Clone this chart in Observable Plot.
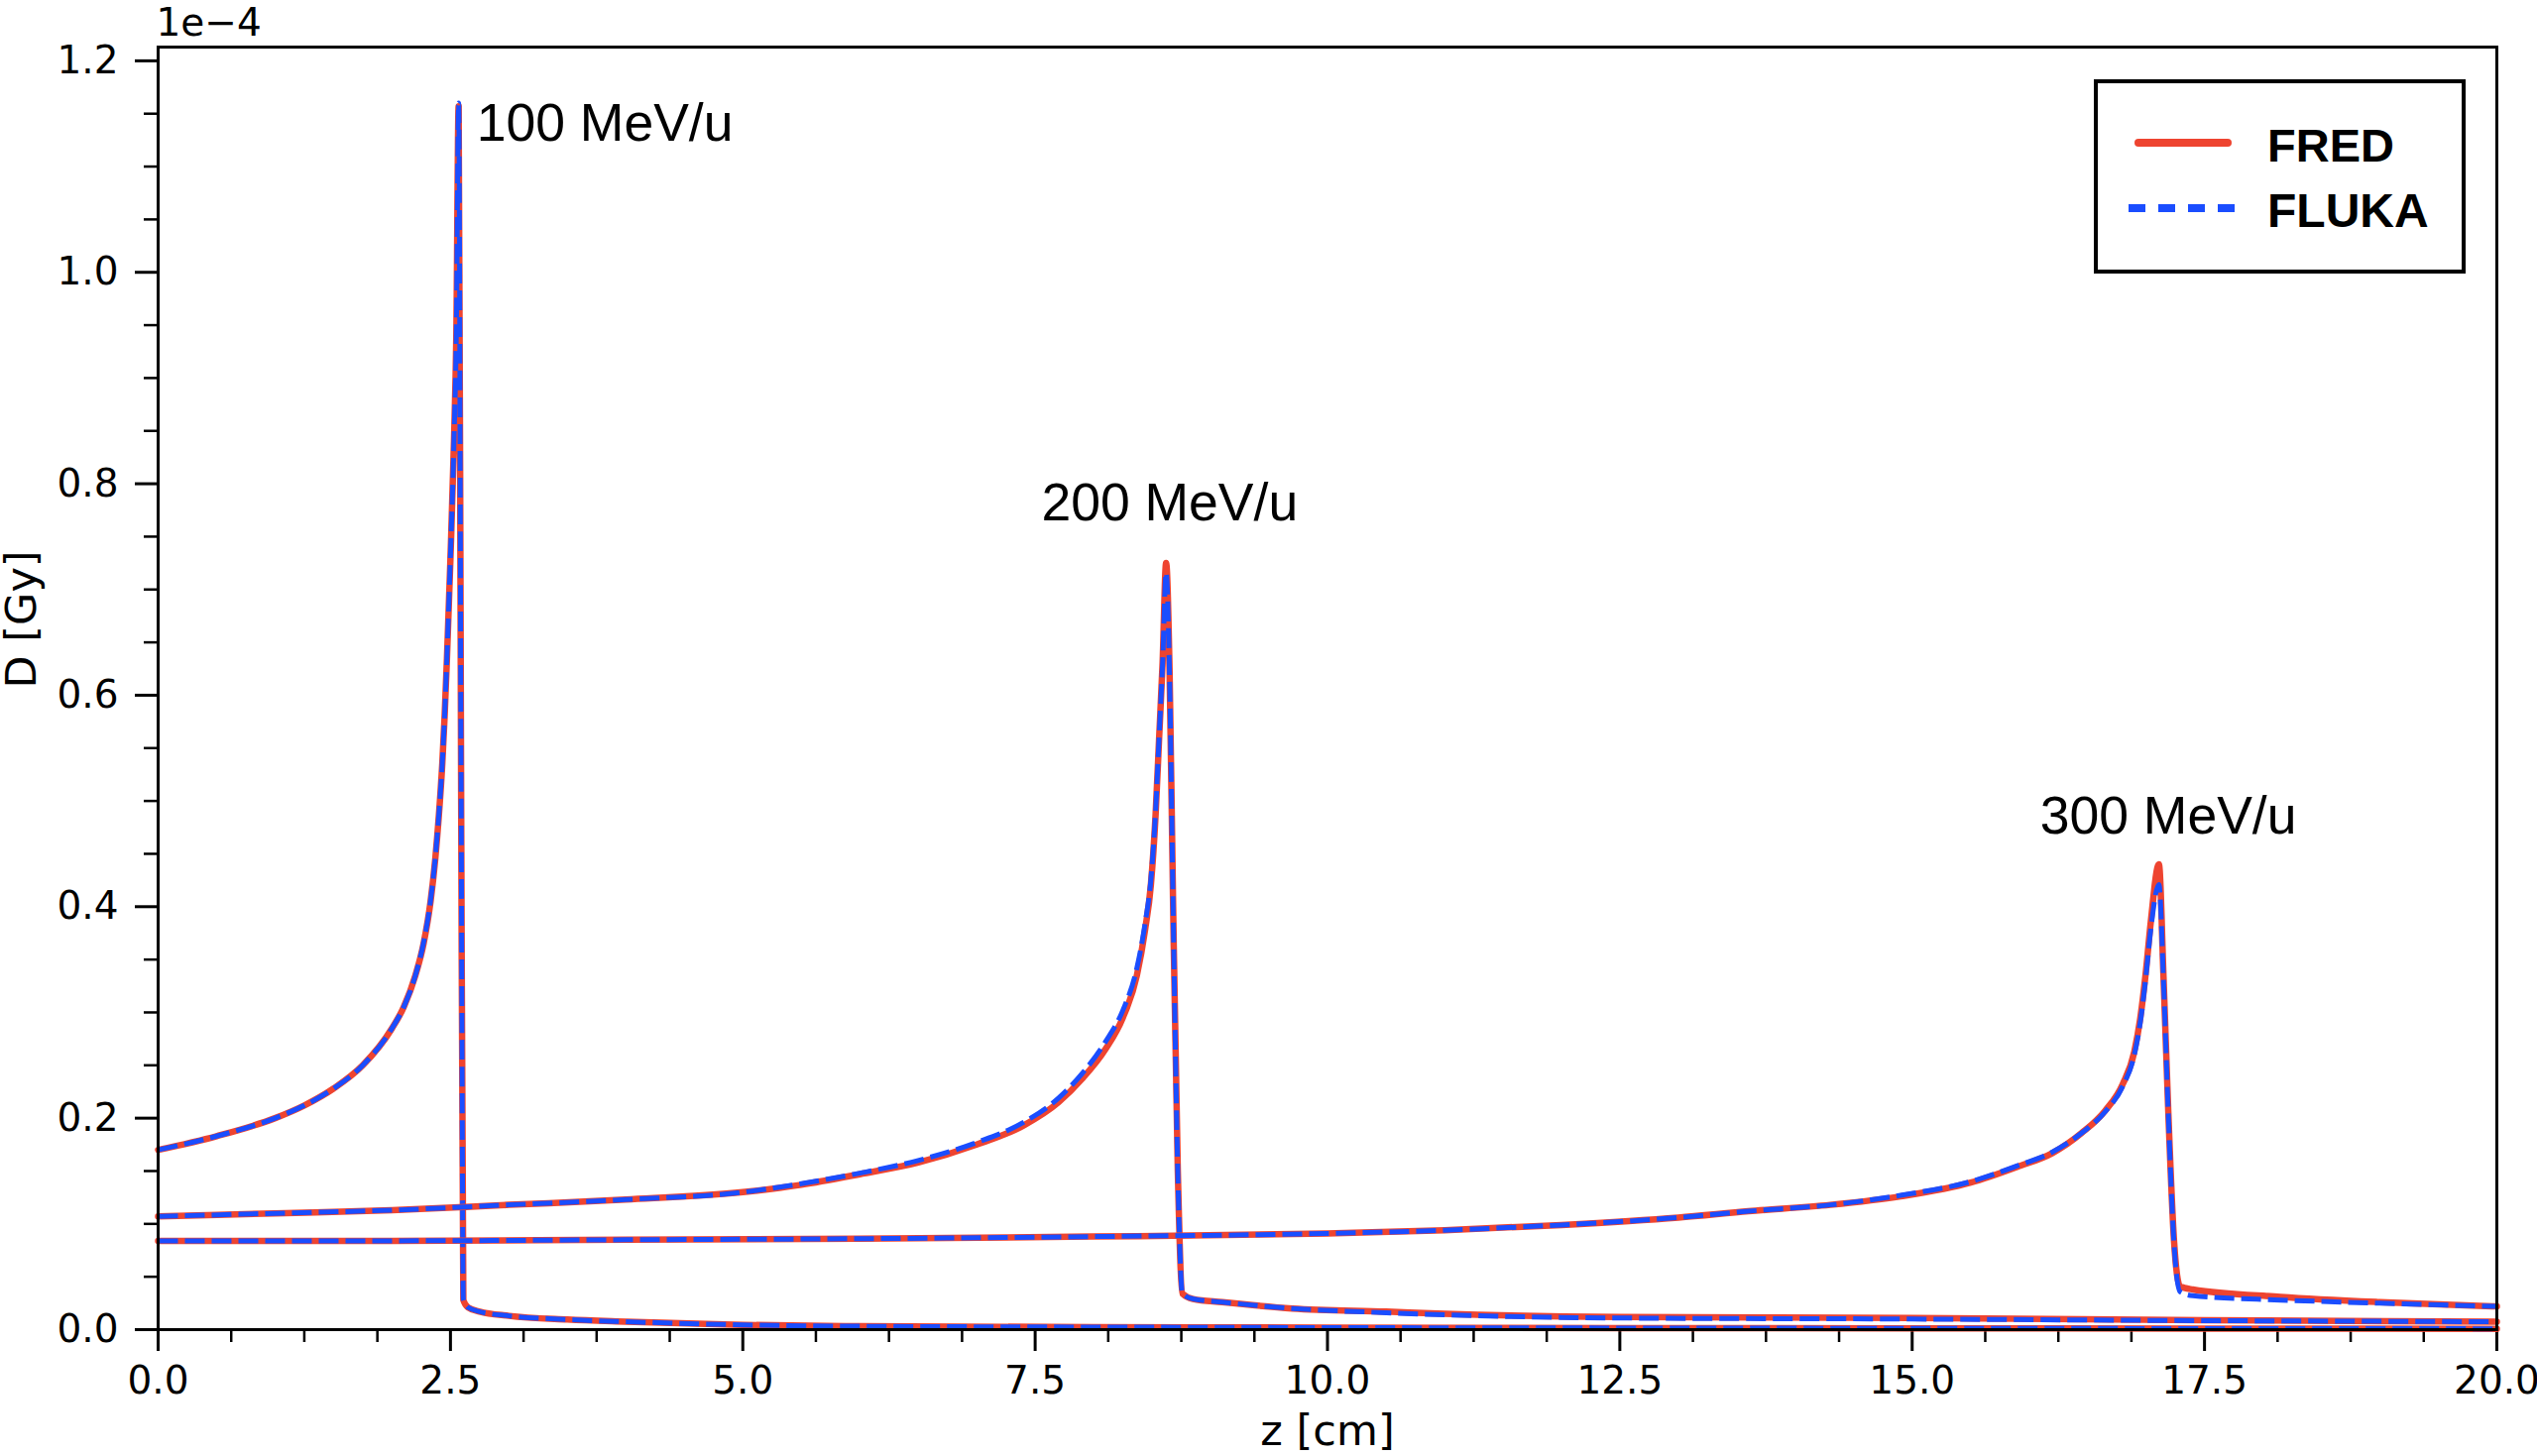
<!DOCTYPE html>
<html>
<head>
<meta charset="utf-8">
<script src="https://cdn.jsdelivr.net/npm/d3@7"></script>
<script src="https://cdn.jsdelivr.net/npm/@observablehq/plot@0.6"></script>
<style>
  html, body { margin: 0; padding: 0; background: #fff; }
  #wrap { position: relative; width: 2559px; height: 1469px; }
  #legend { position: absolute; left: 2112px; top: 80px; width: 367px; height: 188px;
            border: 4px solid #000; background: #fff; }
  #legend svg { display: block; }
</style>
</head>
<body>
<div id="wrap">
  <div id="chart"></div>
  <div id="legend"></div>
</div>
<script>
// ---------------- data (D in units of 1e-4 Gy, z in cm) ----------------
const codes = ["FRED", "FLUKA"];
const energies = ["100 MeV/u", "200 MeV/u", "300 MeV/u"];

const z100 = [0, 0.5, 1.0, 1.25, 1.5, 1.75, 2.0, 2.1, 2.2, 2.27, 2.33, 2.37, 2.40, 2.43, 2.45, 2.47, 2.50, 2.53, 2.55, 2.57, 2.59, 2.61, 2.65, 2.75, 3.0, 3.5, 4.0, 5.0, 6.0, 8.0, 10.0, 12.5, 15.0, 17.5, 20.0];
const fred100 = [0.170, 0.183, 0.200, 0.212, 0.228, 0.250, 0.285, 0.305, 0.335, 0.365, 0.405, 0.445, 0.485, 0.535, 0.580, 0.635, 0.730, 0.840, 0.940, 1.157, 0.550, 0.028, 0.021, 0.017, 0.013, 0.0095, 0.0075, 0.0045, 0.0032, 0.0024, 0.0019, 0.0015, 0.0012, 0.0010, 0.0008];
const fluka100 = [0.170, 0.183, 0.200, 0.212, 0.228, 0.250, 0.285, 0.305, 0.335, 0.366, 0.406, 0.446, 0.486, 0.536, 0.581, 0.637, 0.732, 0.842, 0.942, 1.160, 0.552, 0.029, 0.021, 0.017, 0.013, 0.0095, 0.0075, 0.0045, 0.0032, 0.0024, 0.0019, 0.0015, 0.0012, 0.0010, 0.0008];

const z200 = [0, 1.0, 2.0, 3.0, 4.0, 5.0, 5.5, 6.0, 6.5, 7.0, 7.4, 7.7, 7.9, 8.1, 8.25, 8.37, 8.44, 8.49, 8.53, 8.56, 8.59, 8.62, 8.65, 8.68, 8.72, 8.76, 8.85, 9.1, 9.7, 10.5, 11.0, 12.5, 15.0, 17.5, 20.0];
const fred200 = [0.107, 0.110, 0.113, 0.118, 0.123, 0.130, 0.137, 0.147, 0.158, 0.175, 0.193, 0.215, 0.237, 0.265, 0.295, 0.335, 0.378, 0.421, 0.487, 0.559, 0.631, 0.725, 0.620, 0.400, 0.150, 0.034, 0.029, 0.026, 0.020, 0.017, 0.015, 0.012, 0.011, 0.009, 0.0075];
const fluka200 = [0.107, 0.110, 0.113, 0.118, 0.123, 0.130, 0.138, 0.148, 0.160, 0.177, 0.196, 0.219, 0.242, 0.272, 0.302, 0.342, 0.384, 0.426, 0.490, 0.560, 0.630, 0.716, 0.615, 0.398, 0.148, 0.034, 0.029, 0.026, 0.020, 0.016, 0.014, 0.011, 0.010, 0.0085, 0.0075];

const z300 = [0, 2.0, 4.0, 6.0, 8.0, 10.0, 11.0, 12.0, 13.0, 13.6, 14.3, 14.9, 15.5, 15.9, 16.2, 16.45, 16.65, 16.8, 16.9, 16.95, 17.0, 17.04, 17.11, 17.15, 17.19, 17.24, 17.29, 17.4, 18.15, 19.0, 20.0];
const fred300 = [0.084, 0.084, 0.085, 0.086, 0.088, 0.091, 0.094, 0.099, 0.106, 0.112, 0.118, 0.126, 0.139, 0.154, 0.167, 0.186, 0.207, 0.232, 0.263, 0.294, 0.340, 0.385, 0.440, 0.332, 0.207, 0.083, 0.041, 0.038, 0.031, 0.026, 0.022];
const fluka300 = [0.084, 0.084, 0.085, 0.086, 0.088, 0.091, 0.094, 0.099, 0.106, 0.112, 0.118, 0.127, 0.140, 0.155, 0.168, 0.186, 0.206, 0.230, 0.260, 0.290, 0.335, 0.378, 0.421, 0.328, 0.205, 0.080, 0.036, 0.032, 0.028, 0.025, 0.022];

// peak annotations (label anchor in data coordinates)
const labelText = ["100 MeV/u", "200 MeV/u", "300 MeV/u"];
const labelZ = [3.82, 8.65, 17.19];
const labelD = [1.140, 0.781, 0.485];

// axis ticks
const xTicks = [0, 2.5, 5.0, 7.5, 10.0, 12.5, 15.0, 17.5, 20.0];
const yTicks = [0, 0.2, 0.4, 0.6, 0.8, 1.0, 1.2];
const offsetText = "1e\u22124";
const xLabel = "z [cm]";
const yLabel = "D [Gy]";

// ---------------- build tables ----------------
const series = [
  {energy: energies[0], z: z100, FRED: fred100, FLUKA: fluka100},
  {energy: energies[1], z: z200, FRED: fred200, FLUKA: fluka200},
  {energy: energies[2], z: z300, FRED: fred300, FLUKA: fluka300}
];
const rows = {FRED: [], FLUKA: []};
for (const s of series) {
  for (const c of codes) {
    s.z.forEach((zv, i) => rows[c].push({code: c, energy: s.energy, z: zv, D: s[c][i]}));
  }
}
const labels = labelText.map((t, i) => ({text: t, z: labelZ[i], D: labelD[i]}));
const xMinor = d3.range(0, 33).map(i => i * 0.625).filter(v => v <= 20 && !xTicks.includes(v));
const yMinor = d3.range(0, 25).filter(i => i % 4 !== 0).map(i => i * 0.05);

const RED = "#ee4430";
const BLUE = "#1a4dff";

const lineMarks = [];
for (const e of energies) {
  lineMarks.push(Plot.line(rows.FRED.filter(d => d.energy === e), {x: "z", y: "D", curve: "monotone-x", stroke: RED, strokeWidth: 6.5, strokeLinejoin: "round"}));
  lineMarks.push(Plot.line(rows.FLUKA.filter(d => d.energy === e), {x: "z", y: "D", curve: "monotone-x", stroke: BLUE, strokeWidth: 5, strokeDasharray: "20,7", strokeLinecap: "butt", strokeLinejoin: "round"}));
}

const chart = Plot.plot({
  width: 2559,
  height: 1469,
  marginLeft: 159,
  marginRight: 41,
  marginTop: 47,
  marginBottom: 128,
  style: {fontFamily: "DejaVu Sans", fontSize: "39px", background: "white", color: "black", overflow: "visible"},
  x: {domain: [0, 20], label: null},
  y: {domain: [0, 1.213], label: null},
  marks: [
    Plot.axisX(xMinor, {tickSize: 13, tickFormat: () => "", strokeWidth: 2.5, label: null}),
    Plot.axisX(xTicks, {tickSize: 22, tickPadding: 15, tickFormat: d3.format(".1f"), strokeWidth: 3, label: null}),
    Plot.axisY(yMinor, {tickSize: 14, tickFormat: () => "", strokeWidth: 2.5, label: null}),
    Plot.axisY(yTicks, {tickSize: 23, tickPadding: 17, tickFormat: d3.format(".1f"), strokeWidth: 3, label: null}),
    ...lineMarks,
    Plot.frame({stroke: "black", strokeWidth: 3}),
    Plot.text(labels, {x: "z", y: "D", text: "text", fontFamily: "Liberation Sans, Arial, sans-serif", fontSize: 53.5, fill: "black", textAnchor: "middle", lineAnchor: "middle"}),
    Plot.text([xLabel], {text: d => d, frameAnchor: "bottom", dy: 103, fontSize: 43, lineAnchor: "middle", fill: "black"}),
    Plot.text([yLabel], {text: d => d, frameAnchor: "left", dx: -137, rotate: -90, fontSize: 43, lineAnchor: "middle", fill: "black"}),
    Plot.text([offsetText], {text: d => d, frameAnchor: "top-left", dx: -2, dy: -12, textAnchor: "start", lineAnchor: "bottom", fill: "black"})
  ]
});
document.getElementById("chart").appendChild(chart);

// ---------------- legend ----------------
const lg = d3.select("#legend").append("svg").attr("width", 367).attr("height", 188);
lg.append("line").attr("x1", 41).attr("x2", 131).attr("y1", 60).attr("y2", 60)
  .attr("stroke", RED).attr("stroke-width", 8).attr("stroke-linecap", "round");
lg.append("line").attr("x1", 31).attr("x2", 138).attr("y1", 126).attr("y2", 126)
  .attr("stroke", BLUE).attr("stroke-width", 8).attr("stroke-dasharray", "17,13");
lg.selectAll("text.lab").data(codes).join("text").attr("class", "lab")
  .attr("x", 171).attr("y", (d, i) => i === 0 ? 79 : 145)
  .attr("font-family", "Liberation Sans, Arial, sans-serif").attr("font-weight", "bold")
  .attr("font-size", (d, i) => i === 0 ? 47 : 48).attr("fill", "black").text(d => d);
</script>
</body>
</html>
